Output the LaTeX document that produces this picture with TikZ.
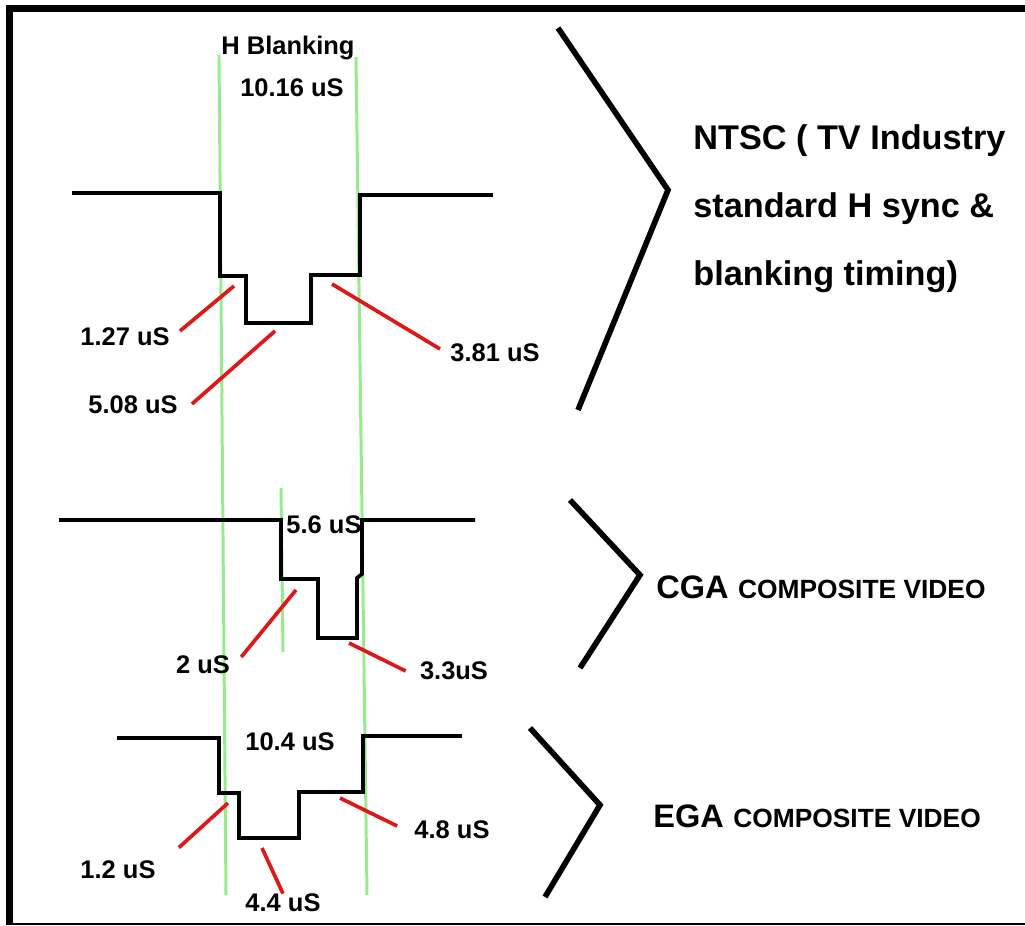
\documentclass[tikz,border=0pt]{standalone}
\usepackage{fontspec}
\setmainfont{Liberation Sans}
\usetikzlibrary{positioning}
\definecolor{guidegreen}{RGB}{150,236,140}
\definecolor{leaderred}{RGB}{222,24,24}

\begin{document}
\begin{tikzpicture}[
    x=0.02cm, y=-0.02cm,
    wave/.style={line width=2.1pt, line join=miter},
    guide/.style={guidegreen, line width=1.7pt},
    leader/.style={leaderred, line width=2.1pt},
    chevron/.style={line width=3.2pt, line join=miter},
    lbl/.style={font=\bfseries\fontsize{14.5}{17}\selectfont, inner sep=0pt},
    title/.style={font=\bfseries\fontsize{19.5}{23}\selectfont, inner sep=0pt, anchor=base west},
]
\useasboundingbox (0,0) rectangle (1025,926);

% Frame
\draw[line width=4pt] (6,8.5) -- (1025,8.5);
\draw[line width=4pt] (9.5,5) -- (9.5,925);
\draw[line width=0.9pt] (6,924) -- (1025,924);

% Blanking guides
\draw[guide] (219,55) -- (226,895);
\draw[guide] (356,57) -- (367,895);
\draw[guide] (281,488) -- (283,652);

% Waveforms
\draw[wave] (72,193) -- (220,193) -- (220,276) -- (246,276) -- (246,323) -- (311,323)
    -- (311,275) -- (360,275) -- (360,195) -- (493,195);
\draw[wave] (59,520) -- (281,520) -- (281,579) -- (318,579) -- (318,638) -- (357,638)
    -- (357,578) -- (362,574) -- (362,520) -- (475,520);
\draw[wave] (117,738) -- (219,738) -- (219,793) -- (239,793) -- (239,838) -- (299,838)
    -- (299,792) -- (363,792) -- (363,736) -- (462,736);

% Labels
\node[lbl] (hblank) at (288,48) {H Blanking};
\node[lbl] (l1016) at (292,88) {10.16 uS};
\node[lbl] (l127) at (125,337) {1.27 uS};
\node[lbl] (l508) at (133,405) {5.08 uS};
\node[lbl] (l381) at (495,353) {3.81 uS};
\node[lbl] (l56) at (324,525) {5.6 uS};
\node[lbl] (l2) at (203,665) {2 uS};
\node[lbl] (l33) at (454,671) {3.3uS};
\node[lbl] (l104) at (290,742) {10.4 uS};
\node[lbl] (l12) at (118,870) {1.2 uS};
\node[lbl] (l44) at (283,903) {4.4 uS};
\node[lbl] (l48) at (452,830) {4.8 uS};

% Leader lines
\coordinate (p127) at (234,286);
\coordinate (p508) at (275,331);
\coordinate (p381) at (332,284);
\coordinate (p2) at (296,590);
\coordinate (p33) at (349,643);
\coordinate (p12) at (228,803);
\coordinate (p44) at (262,848);
\coordinate (p48) at (340,798);
\draw[leader] ([shift={(10,-6)}]l127.east) -- (p127);
\draw[leader] ([shift={(14,-1)}]l508.east) -- (p508);
\draw[leader] ([shift={(-10,-4)}]l381.west) -- (p381);
\draw[leader] ([shift={(11,-8)}]l2.east) -- (p2);
\draw[leader] ([shift={(-14,0)}]l33.west) -- (p33);
\draw[leader] ([shift={(23,-13)}]l12.north east) -- (p12);
\draw[leader] (l44.north) -- (p44);
\draw[leader] ([shift={(-17,-4)}]l48.west) -- (p48);

% Standards
\draw[chevron] (558,28) -- (668,190) -- (578,410);
\draw[chevron] (570,500) -- (640,575) -- (580,668);
\draw[chevron] (530,728) -- (600,805) -- (545,897);

\node[title] (ntsc1) at (693,150) {NTSC ( TV Industry};
\node[title] (ntsc2) at (693,217) {standard H sync \&};
\node[title] (ntsc3) at (693,285) {blanking timing)};
\node[title] (cga) at (656,598) {{\fontsize{18.5}{22}\selectfont CGA} {\fontsize{15}{18}\selectfont COMPOSITE VIDEO}};
\node[title] (ega) at (653,827) {{\fontsize{18.5}{22}\selectfont EGA} {\fontsize{15}{18}\selectfont COMPOSITE VIDEO}};

\end{tikzpicture}
\end{document}
